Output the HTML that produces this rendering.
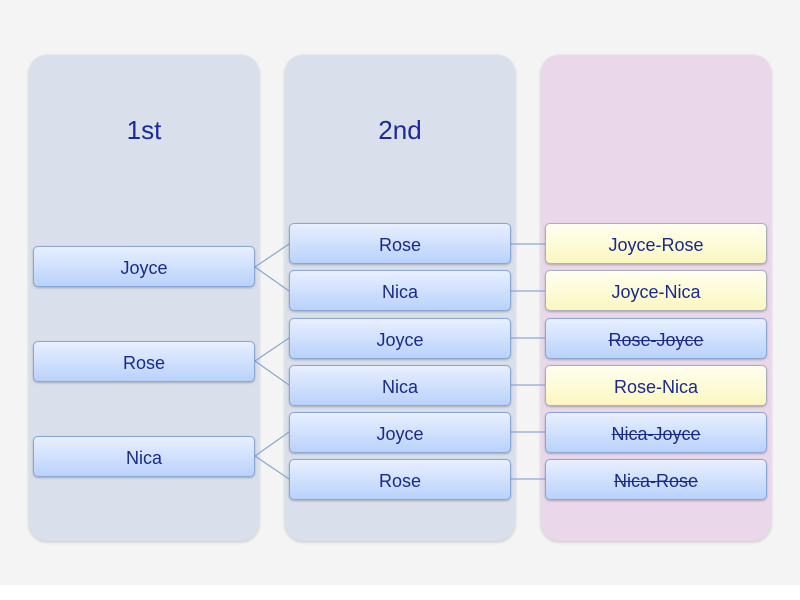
<!DOCTYPE html>
<html><head><style>
body{margin:0;width:800px;height:600px;background:#f4f4f4;position:relative;overflow:hidden;font-family:"Liberation Sans",sans-serif}
.col{position:absolute;top:55px;width:230px;height:486px;border-radius:18px;background:#dae0eb;box-shadow:0 1px 3px rgba(0,0,0,.2)}
.h{position:absolute;width:230px;text-align:center;top:115px;font-size:26px;color:#1a2a9a}
.b{position:absolute;width:220px;height:39px;border:1px solid #8aa6d4;border-radius:5px;background:linear-gradient(#e8efff,#b9d2fb);box-shadow:0 1px 2px rgba(0,0,0,.25);text-align:center;line-height:42px;font-size:18px;color:#1a2a8a}
.y{background:linear-gradient(#fffff0,#fbf7c0);border-color:#a8b0c0}
.s{text-decoration:line-through}
</style></head><body>
<div style="position:absolute;left:0;top:585px;width:800px;height:15px;background:#fff"></div>
<div class="col" style="left:29px"></div>
<div class="col" style="left:285px"></div>
<div class="col" style="left:541px;background:#ead8ea"></div>
<div class="h" style="left:29px">1st</div>
<div class="h" style="left:285px">2nd</div>
<svg style="position:absolute;left:0;top:0" width="800" height="600"><g stroke="#8aa6d4" stroke-width="1.2" fill="none">
<path d="M255 267L289 244M255 267L289 291M255 361L289 338M255 361L289 385M255 456L289 432M255 456L289 479"/>
<path d="M511 244H545M511 291H545M511 338H545M511 385H545M511 432H545M511 479H545"/></g></svg>
<div class="b" style="left:33px;top:246px">Joyce</div>
<div class="b" style="left:33px;top:341px">Rose</div>
<div class="b" style="left:33px;top:436px">Nica</div>
<div class="b" style="left:289px;top:223px">Rose</div>
<div class="b" style="left:289px;top:270px">Nica</div>
<div class="b" style="left:289px;top:318px">Joyce</div>
<div class="b" style="left:289px;top:365px">Nica</div>
<div class="b" style="left:289px;top:412px">Joyce</div>
<div class="b" style="left:289px;top:459px">Rose</div>
<div class="b y" style="left:545px;top:223px">Joyce-Rose</div>
<div class="b y" style="left:545px;top:270px">Joyce-Nica</div>
<div class="b s" style="left:545px;top:318px">Rose-Joyce</div>
<div class="b y" style="left:545px;top:365px">Rose-Nica</div>
<div class="b s" style="left:545px;top:412px">Nica-Joyce</div>
<div class="b s" style="left:545px;top:459px">Nica-Rose</div>
</body></html>
